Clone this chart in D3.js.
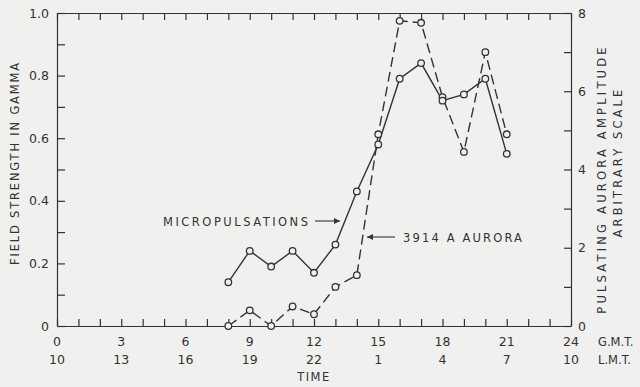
<!DOCTYPE html>
<html>
<head>
<meta charset="utf-8">
<script src="https://cdn.jsdelivr.net/npm/d3@7"></script>
<style>
  body { margin: 0; background: #f0f0ef; }
  svg { display: block; }
  text { font-family: "DejaVu Sans", sans-serif; fill: #333; }
  .domain, .tick line { stroke: #333; stroke-width: 1.2; }
</style>
</head>
<body>
<div id="container"></div>
<script>
// data
const hours = [8, 9, 10, 11, 12, 13, 14, 15, 16, 17, 18, 19, 20, 21];
const micropulsations = [0.14, 0.24, 0.19, 0.24, 0.17, 0.26, 0.43, 0.58, 0.79, 0.84, 0.72, 0.74, 0.79, 0.55];
const aurora = [0, 0.4, 0, 0.5, 0.3, 1.0, 1.3, 4.9, 7.8, 7.75, 5.85, 4.45, 7.0, 4.9];
const gmtTicks = [0, 3, 6, 9, 12, 15, 18, 21, 24];
const lmtLabels = ['10', '13', '16', '19', '22', '1', '4', '7', '10'];
const leftTicks = [0, 0.2, 0.4, 0.6, 0.8, 1.0];
const rightTicks = [0, 2, 4, 6, 8];

const width = 640, height = 387;
const margin = { left: 57, right: 69, top: 13, bottom: 61 };
const ink = '#333';
const bg = '#f0f0ef';

const svg = d3.select('#container').append('svg')
    .attr('width', width)
    .attr('height', height);

const x = d3.scaleLinear().domain([0, 24]).range([margin.left, width - margin.right]);
const yL = d3.scaleLinear().domain([0, 1]).range([height - margin.bottom, margin.top]);
const yR = d3.scaleLinear().domain([0, 8]).range([height - margin.bottom, margin.top]);

const x0 = margin.left, x1 = width - margin.right;
const y0 = height - margin.bottom, y1 = margin.top;

// axes (ticks point inward)
svg.append('g')
    .attr('transform', `translate(0,${y0})`)
    .call(d3.axisBottom(x).tickValues(d3.range(0, 25)).tickSize(-7).tickSizeOuter(0).tickFormat(''));
svg.append('g')
    .attr('transform', `translate(0,${y1})`)
    .call(d3.axisTop(x).tickValues(d3.range(0, 25)).tickSize(-7).tickSizeOuter(0).tickFormat(''));
svg.append('g')
    .attr('transform', `translate(${x0},0)`)
    .call(d3.axisLeft(yL).tickValues(d3.range(0, 11).map(d => d / 10)).tickSize(-8).tickSizeOuter(0).tickFormat(''));
svg.append('g')
    .attr('transform', `translate(${x1},0)`)
    .call(d3.axisRight(yR).tickValues(d3.range(0, 9)).tickSize(-7).tickSizeOuter(0).tickFormat(''));

// tick labels
svg.append('g').selectAll('text')
    .data(leftTicks)
    .enter().append('text')
    .attr('x', 49)
    .attr('y', d => yL(d) + 4.5)
    .attr('text-anchor', 'end')
    .attr('font-size', 12.5)
    .text(d => d === 0 ? '0' : d.toFixed(1));

svg.append('g').selectAll('text')
    .data(rightTicks)
    .enter().append('text')
    .attr('x', 578)
    .attr('y', d => yR(d) + 4.5)
    .attr('font-size', 12.5)
    .text(d => d);

svg.append('g').selectAll('text')
    .data(gmtTicks)
    .enter().append('text')
    .attr('x', d => x(d))
    .attr('y', 346)
    .attr('text-anchor', 'middle')
    .attr('font-size', 12.5)
    .text(d => d);

svg.append('g').selectAll('text')
    .data(gmtTicks)
    .enter().append('text')
    .attr('x', d => x(d))
    .attr('y', 364)
    .attr('text-anchor', 'middle')
    .attr('font-size', 12.5)
    .text((d, i) => lmtLabels[i]);

svg.append('text').attr('x', 598).attr('y', 346).attr('font-size', 11.5).text('G.M.T.');
svg.append('text').attr('x', 598).attr('y', 364).attr('font-size', 11.5).text('L.M.T.');
svg.append('text').attr('x', x(12)).attr('y', 381).attr('text-anchor', 'middle')
    .attr('font-size', 11.5).attr('letter-spacing', 1.5).text('TIME');

// axis titles
svg.append('text')
    .attr('transform', 'translate(19,163) rotate(-90)')
    .attr('text-anchor', 'middle')
    .attr('font-size', 11.5)
    .attr('letter-spacing', 1.8)
    .text('FIELD STRENGTH IN GAMMA');
svg.append('text')
    .attr('transform', 'translate(606,179) rotate(-90)')
    .attr('text-anchor', 'middle')
    .attr('font-size', 11.5)
    .attr('letter-spacing', 3.2)
    .text('PULSATING AURORA AMPLITUDE');
svg.append('text')
    .attr('transform', 'translate(622,162) rotate(-90)')
    .attr('text-anchor', 'middle')
    .attr('font-size', 11.5)
    .attr('letter-spacing', 3.1)
    .text('ARBITRARY SCALE');

// series
const lineL = d3.line().x((d, i) => x(hours[i])).y(d => yL(d));
const lineR = d3.line().x((d, i) => x(hours[i])).y(d => yR(d));

svg.append('path')
    .attr('d', lineR(aurora))
    .attr('fill', 'none')
    .attr('stroke', ink)
    .attr('stroke-width', 1.4)
    .attr('stroke-dasharray', '10,5');

svg.append('path')
    .attr('d', lineL(micropulsations))
    .attr('fill', 'none')
    .attr('stroke', ink)
    .attr('stroke-width', 1.4);

svg.append('g').selectAll('circle')
    .data(aurora)
    .enter().append('circle')
    .attr('cx', (d, i) => x(hours[i]))
    .attr('cy', d => yR(d))
    .attr('r', 3.3)
    .attr('fill', bg)
    .attr('stroke', ink)
    .attr('stroke-width', 1.3);

svg.append('g').selectAll('circle')
    .data(micropulsations)
    .enter().append('circle')
    .attr('cx', (d, i) => x(hours[i]))
    .attr('cy', d => yL(d))
    .attr('r', 3.3)
    .attr('fill', bg)
    .attr('stroke', ink)
    .attr('stroke-width', 1.3);

// annotations with arrows
const defs = svg.append('defs');
defs.append('marker')
    .attr('id', 'arrow')
    .attr('viewBox', '0 0 10 10')
    .attr('refX', 10).attr('refY', 5)
    .attr('markerWidth', 9).attr('markerHeight', 6)
    .attr('markerUnits', 'userSpaceOnUse')
    .attr('orient', 'auto')
    .append('path')
    .attr('d', 'M0,0L10,5L0,10Z')
    .attr('fill', ink);

svg.append('text')
    .attr('x', 163).attr('y', 226)
    .attr('font-size', 11.5)
    .attr('letter-spacing', 2.5)
    .text('MICROPULSATIONS');
svg.append('line')
    .attr('x1', 315).attr('y1', 221).attr('x2', 340).attr('y2', 221)
    .attr('stroke', ink).attr('stroke-width', 1.1)
    .attr('marker-end', 'url(#arrow)');

svg.append('text')
    .attr('x', 403).attr('y', 242)
    .attr('font-size', 11.5)
    .attr('letter-spacing', 2.15)
    .text('3914 A AURORA');
svg.append('line')
    .attr('x1', 395).attr('y1', 237).attr('x2', 367).attr('y2', 237)
    .attr('stroke', ink).attr('stroke-width', 1.1)
    .attr('marker-end', 'url(#arrow)');
</script>
</body>
</html>
